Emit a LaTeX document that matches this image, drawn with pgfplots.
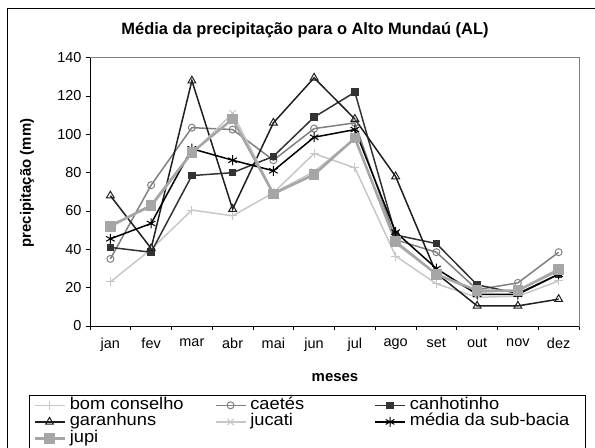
\documentclass[border=0pt]{standalone}
\usepackage{pgfplots}
\pgfplotsset{compat=1.18}
\usepackage{fontspec}
\setmainfont{Liberation Sans}
\newfontfamily\legfont{Liberation Sans}[FakeStretch=1.08]
\definecolor{cBom}{gray}{0.78}
\definecolor{cCae}{gray}{0.5}
\definecolor{cCan}{gray}{0.2}
\definecolor{cGar}{gray}{0.12}
\definecolor{cJuc}{gray}{0.78}
\definecolor{cMed}{gray}{0}
\definecolor{cJup}{gray}{0.65}
\begin{document}
\begin{tikzpicture}[x=1bp,y=1bp]
\begin{axis}[
  at={(90bp,122bp)}, anchor=south west,
  scale only axis, width=489bp, height=268.3bp,
  xmin=0.5, xmax=12.5, ymin=0, ymax=140,
  xtick={1,...,12},
  xticklabels={jan,fev,mar,abr,mai,jun,jul,ago,set,out,nov,dez},
  minor xtick={0.5,1.5,...,12.5},
  ytick={0,20,...,140},
  tick align=outside, xtick pos=bottom, ytick pos=left,
  major x tick style={draw=none},
  major tick length=4bp, minor tick length=4bp,
  tick style={black, line width=0.8bp},
  axis line style={draw=gray, line width=0.8bp},
  tick label style={font=\fontsize{14.5}{16}\selectfont},
  xticklabel style={yshift=-5bp},
  yticklabel style={xshift=-1bp},
  /pgf/number format/assume math mode=true,
  clip=false,
  legend columns=3,
  legend cell align=left,
  legend style={at={(-0.12474,-0.2561)}, anchor=north west, draw=black, line width=0.6bp,
    font=\legfont\fontsize{17}{17}\selectfont, inner xsep=4bp, inner ysep=2bp, row sep=0bp,
    nodes={inner xsep=1bp, inner ysep=0.3bp, text height=12bp, text depth=4bp},
    /tikz/every odd column/.append style={column sep=3bp}},
  legend image code/.code={\draw[mark repeat=2,mark phase=2,#1] plot coordinates {(0bp,0bp)(15bp,0bp)(30bp,0bp)};},
  every axis plot/.append style={line width=1.5bp},
]
\addplot[color=cBom, mark=+, mark size=4.5bp, mark options={line width=1bp}] coordinates {
(1,23)(2,40)(3,60.5)(4,57.5)(5,69.5)(6,90)(7,82.5)(8,36.5)(9,22)(10,15)(11,15.5)(12,23.5)};
\addlegendentry{\makebox[144bp][l]{bom conselho}}
\addplot[color=cCae, mark=o, mark size=3.5bp, mark options={fill=white, line width=1bp}] coordinates {
(1,35)(2,73.5)(3,103.5)(4,102.5)(5,86.5)(6,103)(7,106)(8,45)(9,38.5)(10,19)(11,22.5)(12,38.5)};
\addlegendentry{\makebox[123bp][l]{caetés}}
\addplot[color=cCan, mark=square*, mark size=3bp] coordinates {
(1,41)(2,38.5)(3,78.5)(4,80)(5,88.5)(6,109)(7,122)(8,47.5)(9,43)(10,21.5)(11,17)(12,27)};
\addlegendentry{\makebox[170bp][l]{canhotinho}}
\addplot[color=cGar, mark=triangle, mark size=4.5bp, mark options={fill=white, line width=1bp}] coordinates {
(1,68)(2,40.5)(3,128)(4,61)(5,106)(6,129.5)(7,108)(8,78)(9,27.5)(10,10.5)(11,10.5)(12,14)};
\addlegendentry{garanhuns}
\addplot[color=cJuc, mark=x, mark size=4.5bp, mark options={line width=1bp}] coordinates {
(1,53)(2,62)(3,90)(4,111)(5,69.5)(6,80.5)(7,98)(8,43)(9,27)(10,17.5)(11,18.5)(12,28.5)};
\addlegendentry{jucati}
\addplot[color=cMed, mark=asterisk, mark size=5bp, mark options={line width=1bp}] coordinates {
(1,45.5)(2,53.5)(3,92.5)(4,86.5)(5,81)(6,98.5)(7,102.5)(8,49)(9,30)(10,16.5)(11,16.5)(12,27)};
\addlegendentry{média da sub-bacia}
\addplot[color=cJup, line width=2.5bp, mark=square*, mark size=4bp] coordinates {
(1,52)(2,63)(3,90.5)(4,108)(5,69)(6,79)(7,98)(8,44)(9,27)(10,18.5)(11,18.5)(12,29.5)};
\addlegendentry{jupi}
\draw[black, line width=0.8bp] (axis cs:0.5,140) -- (axis cs:0.5,0) -- (axis cs:12.5,0);
\end{axis}
\node[font=\fontsize{16.5}{18}\selectfont\bfseries, anchor=base] at (305bp,413bp) {Média da precipitação para o Alto Mundaú (AL)};
\node[font=\fontsize{15}{16}\selectfont\bfseries, rotate=90] at (27bp,265bp) {precipitação (mm)};
\node[font=\fontsize{15}{16}\selectfont\bfseries] at (335bp,70bp) {meses};
\draw[black, line width=0.8bp] (7bp,-20bp) -- (7bp,440bp) -- (620bp,440bp);
\pgfresetboundingbox
\useasboundingbox (0,0) rectangle (595bp,448bp);
\end{tikzpicture}
\end{document}
